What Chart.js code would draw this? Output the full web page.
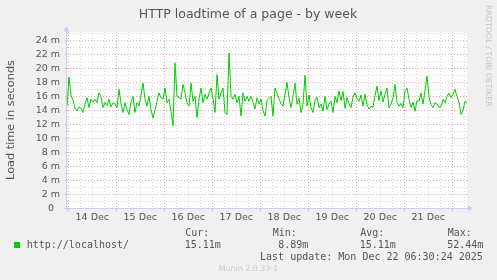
<!DOCTYPE html>
<html><head><meta charset="utf-8">
<script src="https://cdn.jsdelivr.net/npm/chart.js@4"></script>
<style>html,body{margin:0;padding:0;background:#f0f0f0;overflow:hidden}canvas{display:block}</style>
</head><body>
<canvas id="c" width="497" height="280"></canvas>
<script>
const chartTitle = 'HTTP loadtime of a page - by week';
const yAxisTitle = 'Load time in seconds';
const watermark = 'RRDTOOL / TOBI OETIKER';
const dayLabels = ['14 Dec','15 Dec','16 Dec','17 Dec','18 Dec','19 Dec','20 Dec','21 Dec'];
const startHour = -0.65;   // hours relative to 14 Dec 00:00
const stepHours = 1;
const loadTime = [
  14.6, 18.8, 16.1, 15.5, 14.3, 13.9, 14.5, 14.3, 13.7, 14.9,
  15.8, 14.4, 15.6, 15.2, 15.6, 15.1, 16.5, 15.9, 14.4, 15.1,
  14.7, 15.6, 14.5, 15.1, 14.9, 14.4, 17.0, 15.0, 13.7, 15.1,
  14.1, 13.4, 15.2, 16.0, 13.7, 15.1, 14.6, 16.2, 17.9, 15.6,
  14.6, 16.0, 14.1, 12.9, 14.1, 15.3, 16.5, 15.8, 15.6, 17.2,
  15.1, 15.6, 13.9, 11.8, 20.8, 16.0, 15.8, 15.6, 17.7, 16.5,
  15.1, 14.6, 17.9, 15.3, 16.0, 13.0, 15.6, 17.2, 15.1, 16.3,
  15.6, 16.5, 17.2, 15.6, 13.7, 19.1, 15.6, 16.5, 17.2, 13.7,
  13.4, 22.2, 16.0, 15.6, 16.3, 15.1, 16.0, 13.2, 16.5, 15.3,
  16.0, 15.3, 16.0, 15.1, 14.2, 15.8, 14.9, 15.6, 14.0, 13.2,
  15.4, 15.7, 16.0, 13.2, 17.2, 16.5, 15.6, 15.0, 14.6, 16.3,
  18.0, 15.8, 14.4, 16.0, 17.9, 14.9, 15.8, 13.7, 14.9, 19.0,
  14.6, 16.2, 14.4, 13.7, 15.4, 15.9, 14.4, 14.9, 13.9, 16.0,
  14.1, 14.9, 15.3, 13.7, 16.0, 15.1, 16.8, 15.4, 16.7, 14.3,
  15.8, 15.0, 14.4, 15.9, 16.5, 15.7, 15.3, 16.2, 14.6, 16.3,
  14.8, 14.2, 14.6, 14.4, 16.1, 17.5, 15.4, 16.8, 15.2, 16.3,
  17.2, 14.4, 14.9, 15.8, 17.7, 15.1, 14.6, 15.0, 14.4, 16.8,
  17.2, 15.6, 14.4, 15.2, 13.9, 15.4, 15.3, 16.5, 14.9, 16.8,
  18.9, 16.0, 14.8, 14.4, 15.1, 14.9, 14.4, 14.6, 15.6, 15.1,
  16.0, 16.5, 15.8, 16.3, 17.0, 16.0, 15.2, 13.4, 14.0, 15.3, 15.1
];
const seriesName = 'http://localhost/';
const statNames = ['Cur:', 'Min:', 'Avg:', 'Max:'];
const statValues = ['15.11m', '8.89m', '15.11m', '52.44m'];
const lastUpdate = 'Last update: Mon Dec 22 06:30:24 2025';
const footer = 'Munin 2.0.33-1';

const RED = '#f3a3a3', GRAY = '#d6d6d6', AXIS = '#c8ccf6', TEXT = '#555555';
const LINE = '#00cc00';
const SANS = 'DejaVu Sans', MONO = 'DejaVu Sans Mono';

const points = loadTime.map((v, i) => ({ x: startHour + i * stepHours, y: v }));
const xMax = startHour + (loadTime.length - 1) * stepHours;

const decor = {
  id: 'decor',
  beforeDraw(chart) {
    const { ctx, chartArea: a } = chart;
    ctx.save();
    ctx.fillStyle = '#f0f0f0';
    ctx.fillRect(0, 0, chart.width, chart.height);
    ctx.fillStyle = '#ffffff';
    ctx.fillRect(a.left, a.top, a.right - a.left, a.bottom - a.top);
    ctx.restore();
  },
  afterDraw(chart) {
    const { ctx, chartArea: a } = chart;
    ctx.save();
    // axes
    ctx.strokeStyle = AXIS; ctx.fillStyle = AXIS; ctx.lineWidth = 1;
    const ax = Math.round(a.left) - 0.5, ay = Math.floor(a.bottom) + 0.5;
    ctx.beginPath();
    ctx.moveTo(ax, ay + 2); ctx.lineTo(ax, a.top - 2);
    ctx.moveTo(a.left - 3, ay); ctx.lineTo(a.right + 2, ay);
    ctx.stroke();
    ctx.beginPath();
    ctx.moveTo(ax, a.top - 6); ctx.lineTo(ax - 3, a.top - 0.5); ctx.lineTo(ax + 3, a.top - 0.5); ctx.closePath(); ctx.fill();
    ctx.beginPath();
    ctx.moveTo(a.right + 6, ay); ctx.lineTo(a.right + 1, ay - 3); ctx.lineTo(a.right + 1, ay + 3); ctx.closePath(); ctx.fill();

    // title
    ctx.fillStyle = TEXT;
    ctx.font = '12.5px "' + SANS + '"';
    ctx.textAlign = 'center'; ctx.textBaseline = 'alphabetic';
    ctx.fillText(chartTitle, 248, 17.8);

    // y axis title
    ctx.save();
    ctx.translate(11, 120);
    ctx.rotate(-Math.PI / 2);
    ctx.font = '11.3px "' + SANS + '"';
    ctx.textBaseline = 'middle';
    ctx.fillText(yAxisTitle, 0, 0);
    ctx.restore();

    // watermark
    ctx.save();
    ctx.translate(488, 5);
    ctx.rotate(Math.PI / 2);
    ctx.fillStyle = '#c4c4c4';
    ctx.font = '7.9px "' + SANS + '"';
    ctx.textAlign = 'left'; ctx.textBaseline = 'middle';
    ctx.fillText(watermark, 0, 0);
    ctx.restore();

    // legend
    ctx.fillStyle = LINE;
    ctx.fillRect(14, 242, 6, 6);
    ctx.fillStyle = TEXT;
    ctx.font = '10px "' + MONO + '"';
    ctx.textBaseline = 'middle';
    ctx.textAlign = 'left';
    ctx.fillText(seriesName, 26.7, 245.7);
    const cols = [185.3, 272.8, 360.3, 447.8];
    statNames.forEach((n, i) => {
      ctx.textAlign = 'left';
      ctx.fillText(n, cols[i], 233.7);
      ctx.textAlign = 'right';
      ctx.fillText(statValues[i], cols[i] + 35.5, 245.7);
    });
    ctx.textAlign = 'right';
    ctx.fillText(lastUpdate, 482.8, 257.7);

    // footer
    ctx.fillStyle = '#c8c8c8';
    ctx.font = '7.9px "' + SANS + '"';
    ctx.textAlign = 'left';
    ctx.fillText(footer, 218.7, 268.7);
    ctx.restore();
  }
};

new Chart(document.getElementById('c'), {
  type: 'line',
  data: {
    datasets: [{
      label: seriesName,
      data: points,
      borderColor: LINE,
      borderWidth: 1,
      pointRadius: 0,
      tension: 0,
      fill: false
    }]
  },
  options: {
    responsive: false,
    animation: false,
    events: [],
    layout: { padding: { top: 32, left: 0, right: 30, bottom: 51.6 } },
    plugins: { legend: { display: false }, tooltip: { enabled: false }, title: { display: false } },
    scales: {
      x: {
        type: 'linear',
        min: startHour,
        max: xMax,
        afterFit: s => { s.height = 20; },
        afterBuildTicks: s => {
          const t = [];
          for (let h = 0; h <= xMax; h += 6) t.push({ value: h });
          s.ticks = t;
        },
        ticks: {
          autoSkip: false, maxRotation: 0, padding: 0,
          color: TEXT, font: { family: SANS, size: 9.5 },
          callback: v => (v % 24 === 12 ? dayLabels[(v - 12) / 24] : '')
        },
        grid: {
          color: c => (c.tick && c.tick.value % 24 === 0 ? RED : GRAY),
          tickColor: c => (c.tick && c.tick.value % 24 === 0 ? RED : 'rgba(0,0,0,0)'),
          tickLength: 3, lineWidth: 1
        },
        border: { display: false, dash: [1, 2] }
      },
      y: {
        min: 0,
        max: 25.2,
        afterFit: s => { s.width = 67; },
        afterBuildTicks: s => {
          const t = [];
          for (let v = 0; v <= 25; v += 1) t.push({ value: v });
          s.ticks = t;
        },
        ticks: {
          autoSkip: false, padding: 5,
          color: TEXT, font: { family: SANS, size: 9.5 },
          callback: v => (v % 2 === 0 ? (v === 0 ? '0  ' : v + ' m') : '')
        },
        grid: {
          color: c => (c.tick && c.tick.value % 2 === 0 ? RED : GRAY),
          tickColor: c => (c.tick && c.tick.value % 2 === 0 ? RED : 'rgba(0,0,0,0)'),
          tickLength: 2, lineWidth: 1
        },
        border: { display: false, dash: [1, 2] }
      }
    }
  },
  plugins: [decor]
});
</script>
</body></html>
